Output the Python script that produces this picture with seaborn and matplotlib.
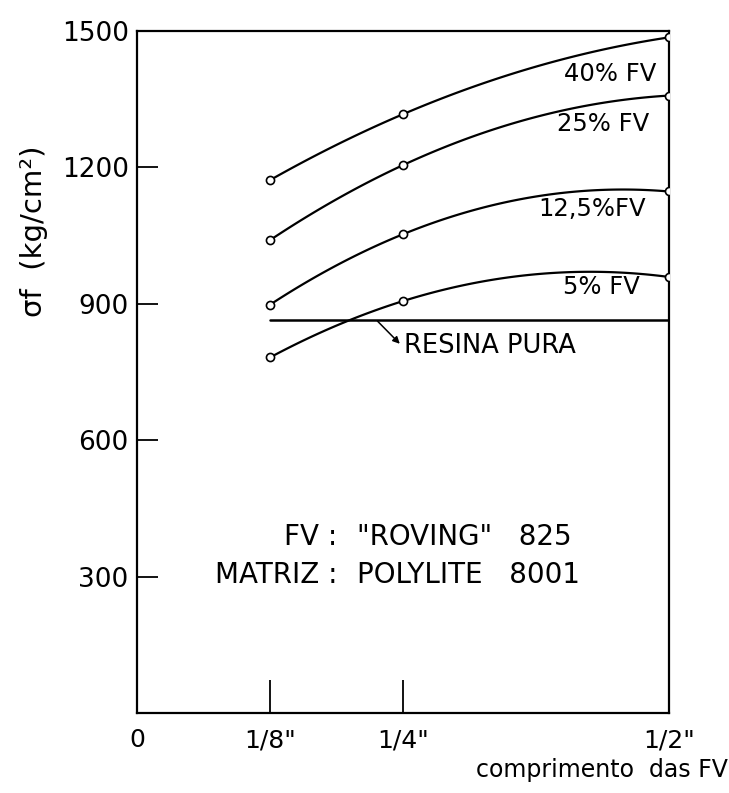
import numpy as np
import pandas as pd
import matplotlib
matplotlib.use("Agg")
import matplotlib.pyplot as plt
import seaborn as sns

# fibre length (inches) and flexural strength (kg/cm2)
comprimento = [0.125, 0.25, 0.5]
fv_40 = [1172, 1317, 1486]
fv_25 = [1040, 1205, 1358]
fv_12 = [898, 1053, 1147]
fv_5 = [782, 906, 959]
resina_x = [0.125, 0.5]
resina_y = [864, 864]

series_labels = ["40% FV", "25% FV", "12,5%FV", "5% FV"]
label_x = [0.488, 0.481, 0.478, 0.473]
label_y = [1405, 1295, 1108, 938]

x_ticks = [0, 0.125, 0.25, 0.5]
x_ticklabels = ["0", '1/8"', '1/4"', '1/2"']
y_ticks = [300, 600, 900, 1200, 1500]

sns.set_theme(style="white")
plt.rcParams["font.family"] = ["DejaVu Sans"]
plt.rcParams["text.color"] = "black"
plt.rcParams["axes.labelcolor"] = "black"
plt.rcParams["xtick.color"] = "black"
plt.rcParams["ytick.color"] = "black"

fig = plt.figure(figsize=(7.29, 7.93), dpi=100)
ax = fig.add_axes([137 / 729, 1 - 713 / 793, 532 / 729, 682 / 793])

df = pd.DataFrame({"x": comprimento * 4,
                   "y": fv_40 + fv_25 + fv_12 + fv_5,
                   "serie": np.repeat(series_labels, 3)})

for name in series_labels:
    sub = df[df["serie"] == name]
    # smooth curve through the three points (quadratic, like the french curve)
    sns.regplot(data=sub, x="x", y="y", order=2, ci=None, scatter=False,
                line_kws={"color": "black", "lw": 1.6}, ax=ax, truncate=True)
    sns.scatterplot(data=sub, x="x", y="y", marker="o", s=34,
                    facecolor="white", edgecolor="black", linewidth=1.2,
                    zorder=5, ax=ax, legend=False)

sns.lineplot(x=resina_x, y=resina_y, color="black", lw=1.8, ax=ax)

for lab, xx, yy in zip(series_labels, label_x, label_y):
    ax.text(xx, yy, lab, ha="right", va="center", fontsize=17.5)

# little arrow from the resin line down to its label
ax.annotate("", xy=(0.247, 812), xytext=(0.226, 862),
            arrowprops=dict(arrowstyle="-|>", color="black", lw=1.1,
                            shrinkA=0, shrinkB=0, mutation_scale=10))
ax.text(0.251, 807, "RESINA PURA", ha="left", va="center", fontsize=18.5)

ax.text(0.188, 388, "FV :", ha="right", va="center", fontsize=20)
ax.text(0.207, 388, '"ROVING"   825', ha="left", va="center", fontsize=20)
ax.text(0.188, 304, "MATRIZ :", ha="right", va="center", fontsize=20)
ax.text(0.207, 304, "POLYLITE   8001", ha="left", va="center", fontsize=20)

ax.set_xlim(0, 0.5)
ax.set_ylim(0, 1500)
ax.set_xticks(x_ticks)
ax.set_xticklabels(x_ticklabels, fontsize=18)
ax.set_yticks(y_ticks)
ax.set_yticklabels([str(v) for v in y_ticks], fontsize=19)
ax.tick_params(axis="y", direction="in", length=15, width=1.3, pad=6, left=True)
ax.tick_params(axis="x", direction="in", length=24, width=1.3, pad=11, bottom=True)

ax.set_xlabel("comprimento  das FV", fontsize=17)
ax.xaxis.set_label_coords(1.11, -0.066)
ax.xaxis.label.set_ha("right")
ax.set_ylabel("σf  (kg/cm²)", fontsize=21)
ax.yaxis.set_label_coords(-0.167, 0.707)

for s in ax.spines.values():
    s.set_visible(True)
    s.set_color("black")
    s.set_linewidth(1.6)

ax.grid(False)
fig.savefig("out.png", dpi=100, facecolor="white")
